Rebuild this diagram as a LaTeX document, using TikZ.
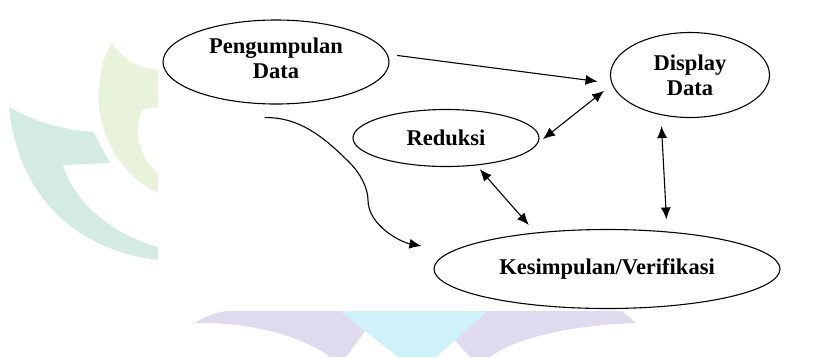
\documentclass[tikz,border=0pt]{standalone}
\usepackage{fontspec}
\setmainfont{Liberation Serif}
\usepackage{xcolor}
\definecolor{wmteal}{HTML}{D3EBE2}
\definecolor{wmgreen}{HTML}{E9F2DB}
\definecolor{wmpurple}{HTML}{DFDAED}
\definecolor{wmblue}{HTML}{CFF2FA}
\usepackage{tikz}
\usetikzlibrary{shapes.geometric,arrows.meta}

\begin{document}
\begin{tikzpicture}[x=1pt,y=-1pt,line cap=round,
  font=\fontsize{22.5}{25}\selectfont\bfseries,
  stage/.style={ellipse,draw,line width=1.1pt,inner sep=0pt,align=center},
  link/.style={line width=1.1pt,-{Latex[length=12pt,width=10pt]}},
  both/.style={line width=1.1pt,{Latex[length=12pt,width=10pt]}-{Latex[length=12pt,width=10pt]}}]
  \useasboundingbox (0,0) rectangle (815,357);
  % faint watermark behind the page
  \fill[wmgreen] (112,43) .. controls (125,62) and (140,68) .. (158,70) -- (158,107)
    -- (142,110) .. controls (132,135) and (142,160) .. (158,173) -- (158,193)
    .. controls (120,175) and (92,130) .. (100,80) .. controls (102,62) and (106,52) .. (112,43) -- cycle;
  \fill[wmteal] (9,107) .. controls (40,125) and (70,130) .. (93,132) -- (110,163) -- (63,165)
    .. controls (75,205) and (115,235) .. (158,247) -- (158,260)
    .. controls (90,252) and (20,210) .. (9,107) -- cycle;
  \fill[wmpurple] (194,323) .. controls (210,314) and (220,311) .. (230,311) -- (352,311)
    -- (366,330) -- (346,357) -- (330,357) .. controls (300,335) and (250,322) .. (194,323) -- cycle;
  \fill[wmpurple] (466,311) -- (622,311) -- (636,323) .. controls (580,325) and (520,335) .. (490,357)
    -- (470,357) -- (450,335) -- cycle;
  \fill[wmblue] (340,311) -- (488,311) -- (436,357) -- (398,357) -- cycle;
  \fill[white] (158,0) rectangle (815,311);
  % stages
  \node[stage,minimum width=226pt,minimum height=84pt] (peng) at (276,62) {Pengumpulan\\Data\\[-17pt]\mbox{}};
  \node[stage,minimum width=159pt,minimum height=85pt] (disp) at (690,75) {Display\\Data};
  \node[stage,minimum width=186pt,minimum height=57pt] (red) at (446,138) {Reduksi};
  \node[stage,minimum width=346pt,minimum height=79pt] (kes) at (607,269) {Kesimpulan/Verifikasi};
  % connectors
  \draw[link,shorten <=10pt,shorten >=14pt] (peng.4) -- (disp.186);
  \draw[both,shorten <=6pt,shorten >=10pt] (red.-3) -- (disp.187);
  \draw[both,shorten <=5pt,shorten >=10pt] (red.-42) -- (kes.153);
  \draw[both,shorten <=11pt,shorten >=12pt] (disp.234) -- (kes.32);
  \coordinate (cfrom) at ([shift={(-11,13)}]peng.south);
  \coordinate (cto) at ([shift={(-12,-23)}]kes.west);
  \draw[link] (cfrom) .. controls (300,117) and (325,138) .. (350,163)
    .. controls (360,173) and (368,188) .. (368,200)
    .. controls (368,225) and (400,242) .. (cto);
\end{tikzpicture}
\end{document}
